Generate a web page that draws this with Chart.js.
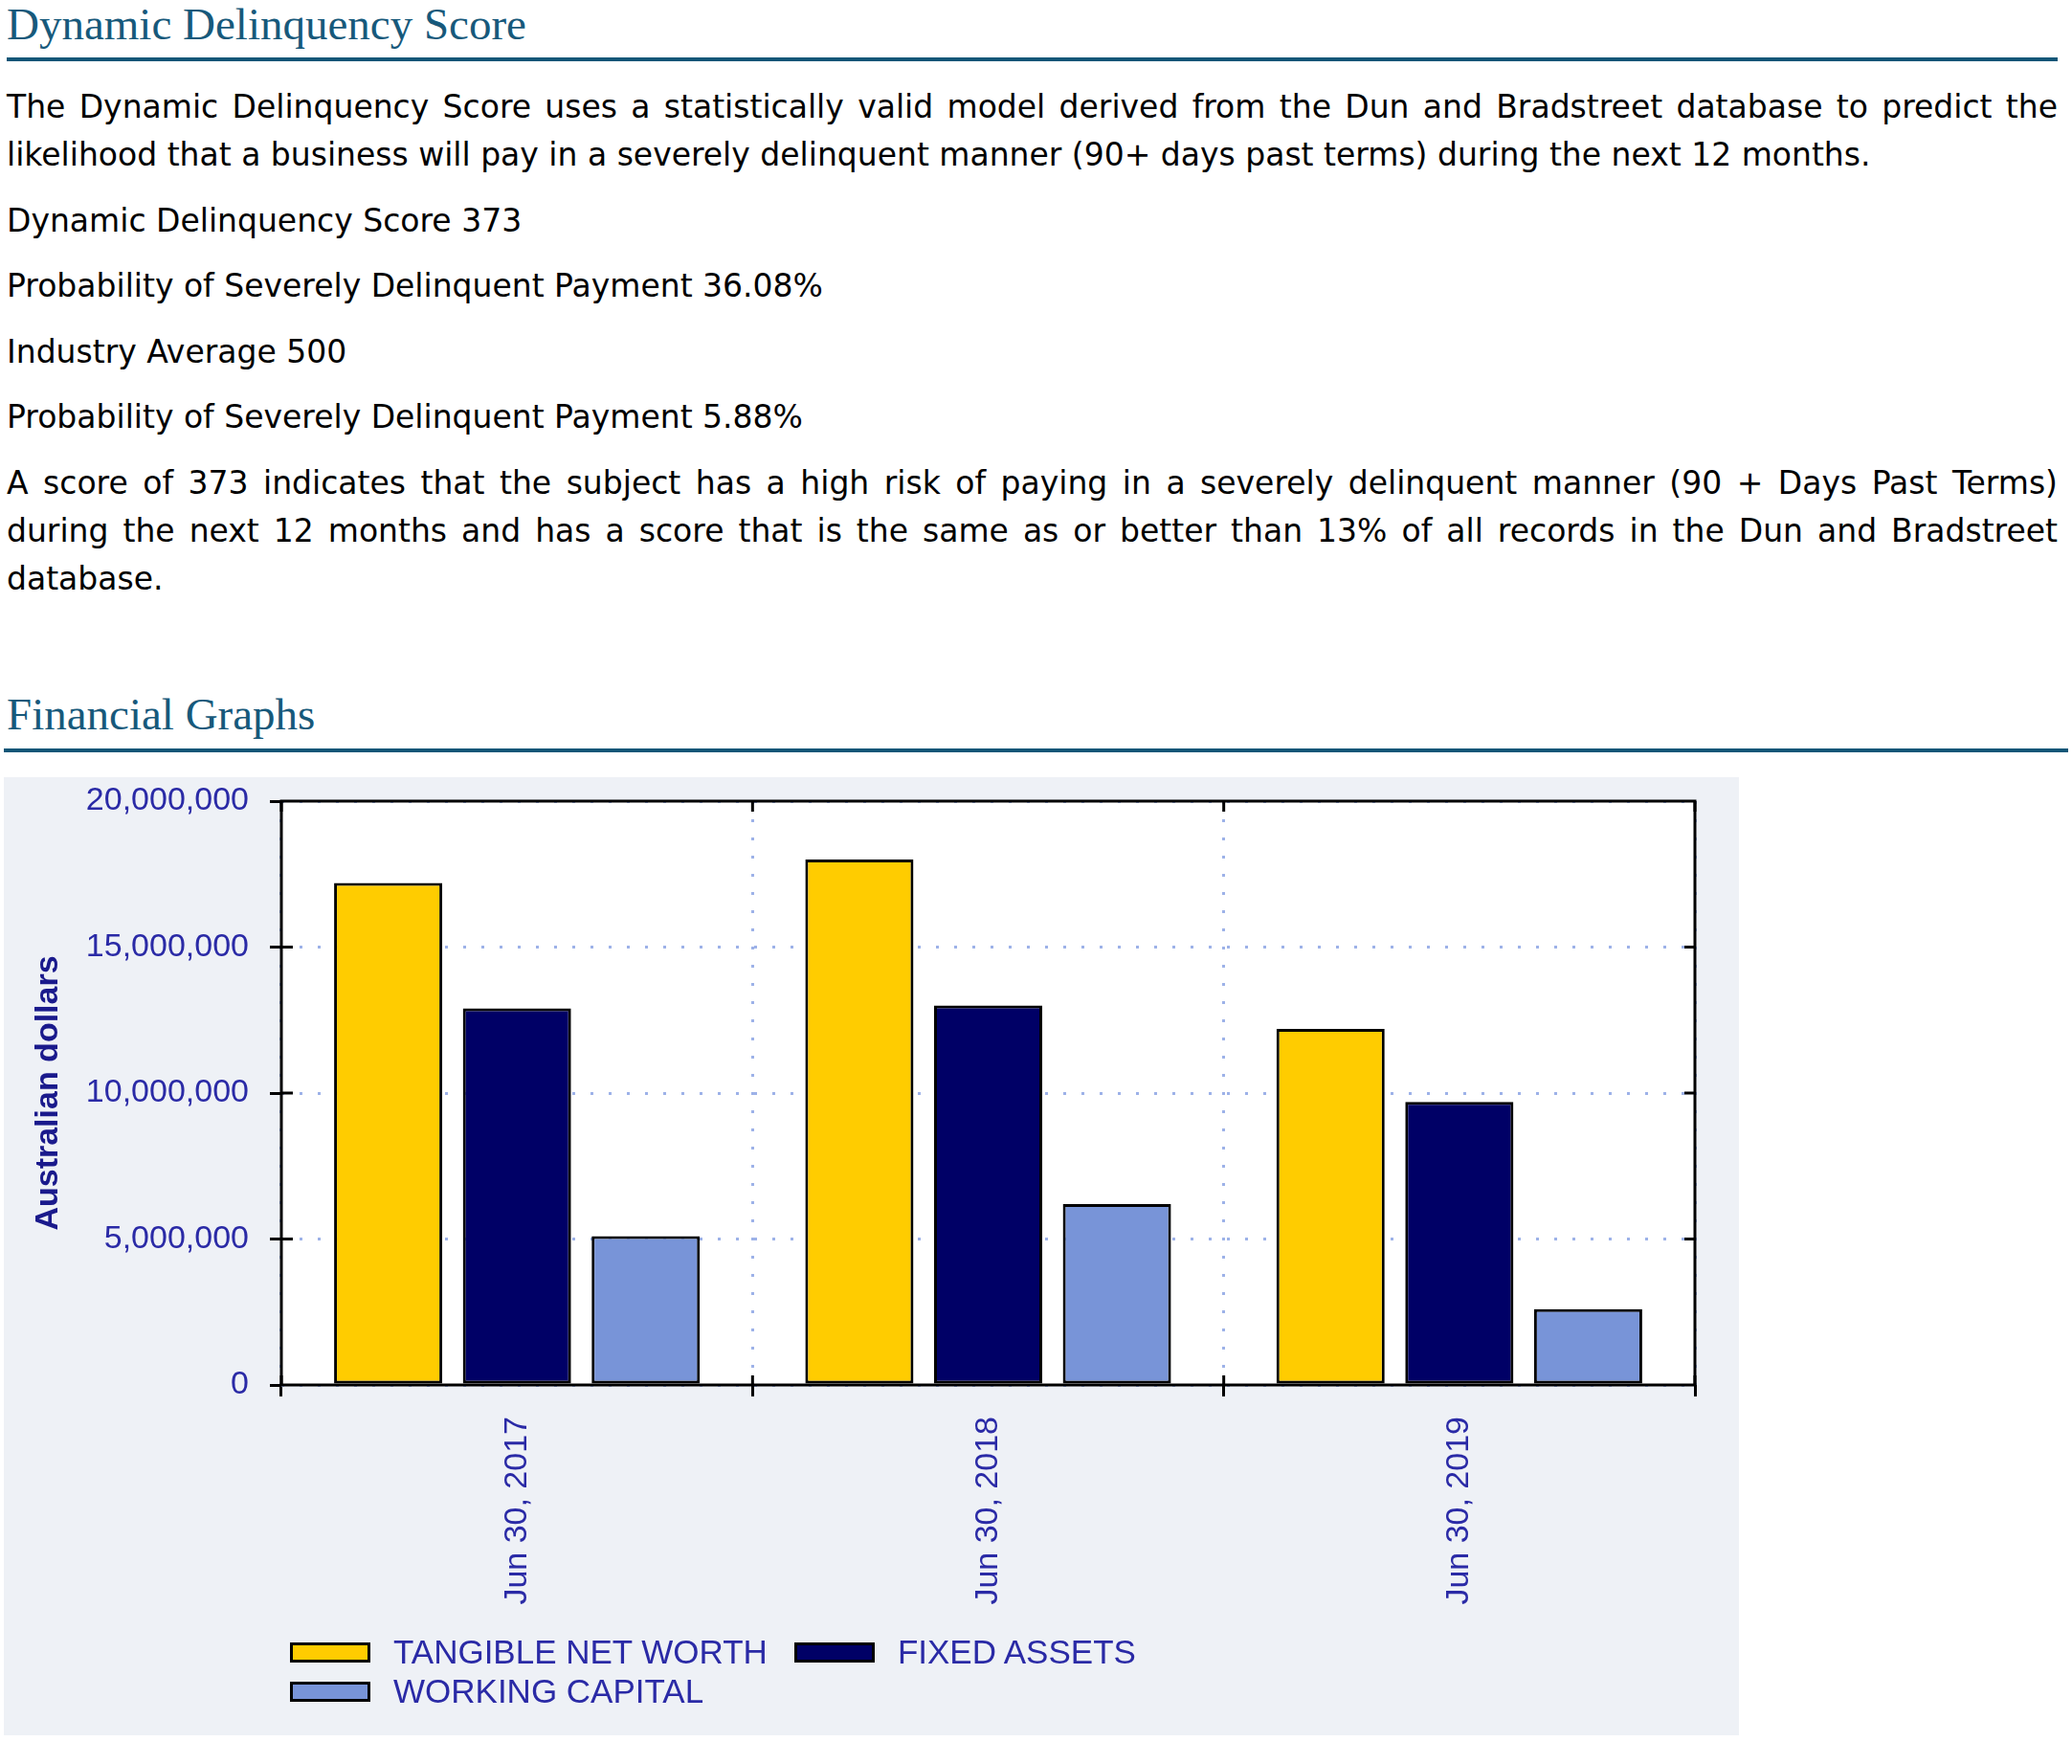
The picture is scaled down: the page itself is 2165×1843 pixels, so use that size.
<!DOCTYPE html>
<html>
<head>
  <title>Dynamic Delinquency Score</title>
  <script src="https://cdn.jsdelivr.net/npm/chart.js"></script>
  <style>
    body {
      margin: 0;
      background: #ffffff;
    }

    .page {
      padding-left: 7px;
      width: 2143px;
    }

    h1 {
      margin: 0;
      font-family: "Liberation Serif", serif;
      font-weight: normal;
      font-size: 47px;
      line-height: 50px;
      color: #17597b;
    }

    .rule {
      height: 4px;
      background: #0f5677;
    }

    p {
      margin: 0 0 18.5px 0;
      font-family: "DejaVu Sans", sans-serif;
      font-size: 33px;
      line-height: 50px;
      color: #000000;
      text-align: justify;
    }

    .panel {
      position: relative;
      margin-left: -3px;
      width: 1813px;
      height: 1001px;
      background: #eef1f6;
    }

    .legend {
      position: absolute;
      left: 299px;
      top: 894px;
      font-family: "Liberation Sans", Arial, sans-serif;
      font-size: 35px;
      color: #2a2aa6;
    }

    .legend-row {
      display: flex;
      align-items: center;
      height: 41px;
    }

    .legend-item {
      display: flex;
      align-items: center;
      margin-right: 28px;
    }

    .swatch {
      box-sizing: border-box;
      width: 84px;
      height: 21px;
      border: 3px solid #000000;
      margin-right: 24px;
    }
  </style>
</head>
<body>
  <div class="page">
    <h1>Dynamic Delinquency Score</h1>
    <div class="rule" style="margin-top: 10px; width: 2143px;"></div>

    <p style="margin-top: 23px;">The Dynamic Delinquency Score uses a statistically valid model derived from the Dun and Bradstreet database to predict the likelihood that a business will pay in a severely delinquent manner (90+ days past terms) during the next 12 months.</p>
    <p>Dynamic Delinquency Score 373</p>
    <p>Probability of Severely Delinquent Payment 36.08%</p>
    <p>Industry Average 500</p>
    <p>Probability of Severely Delinquent Payment 5.88%</p>
    <p>A score of 373 indicates that the subject has a high risk of paying in a severely delinquent manner (90 + Days Past Terms) during the next 12 months and has a score that is the same as or better than 13% of all records in the Dun and Bradstreet database.</p>

    <h1 style="margin-top: 91px;">Financial Graphs</h1>
    <div class="rule" style="margin-top: 11px; margin-left: -3px; width: 2157px;"></div>

    <div class="panel" style="margin-top: 26px;">
      <canvas id="graphique" width="1813" height="1001"></canvas>
      <div class="legend" id="legende"></div>
    </div>
  </div>

  <script>
    // Données (dollars australiens)
    const categories = ["Jun 30, 2017", "Jun 30, 2018", "Jun 30, 2019"];
    const tangibleNetWorth = [17200000, 18000000, 12200000];
    const fixedAssets = [12900000, 13000000, 9700000];
    const workingCapital = [5100000, 6200000, 2600000];

    const seriesNames = ["TANGIBLE NET WORTH", "FIXED ASSETS", "WORKING CAPITAL"];
    const seriesColors = ["#ffcc00", "#000066", "#7894d8"];
    const seriesValues = [tangibleNetWorth, fixedAssets, workingCapital];

    const yTicks = [0, 5000000, 10000000, 15000000, 20000000];

    const labelColor = "#2a2aa6";
    const gridColor = "#9db2e8";

    // Fond blanc, cadre noir et petites graduations intérieures
    const cadre = {
      id: "cadre",
      beforeDraw(chart) {
        const { ctx, chartArea: a } = chart;
        ctx.save();
        ctx.fillStyle = "#ffffff";
        ctx.fillRect(a.left, a.top, a.right - a.left, a.bottom - a.top);
        ctx.restore();
      },
      afterDatasetsDraw(chart) {
        const { ctx, chartArea: a, scales } = chart;
        ctx.save();
        ctx.strokeStyle = "#000000";
        ctx.lineWidth = 3;
        ctx.strokeRect(a.left, a.top, a.right - a.left, a.bottom - a.top);

        ctx.beginPath();
        scales.y.ticks.forEach((t, i) => {
          if (t.value === yTicks[0] || t.value === yTicks[yTicks.length - 1]) return;
          const py = scales.y.getPixelForTick(i);
          ctx.moveTo(a.left, py);
          ctx.lineTo(a.left + 12, py);
          ctx.moveTo(a.right, py);
          ctx.lineTo(a.right - 11, py);
        });
        for (let i = 0; i <= categories.length; i++) {
          const px = scales.x.getPixelForValue(i - 0.5);
          ctx.moveTo(px, a.top);
          ctx.lineTo(px, a.top + 11);
          ctx.moveTo(px, a.bottom);
          ctx.lineTo(px, a.bottom - 10);
        }
        ctx.stroke();
        ctx.restore();
      }
    };

    const datasets = seriesNames.map((name, i) => ({
      label: name,
      data: seriesValues[i],
      backgroundColor: seriesColors[i],
      borderColor: "#000000",
      borderWidth: 3,
      borderSkipped: false,
      barPercentage: 0.84,
      categoryPercentage: 0.82
    }));

    const graphique = document.getElementById("graphique").getContext("2d");
    new Chart(graphique, {
      type: "bar",
      data: { labels: categories, datasets: datasets },
      options: {
        responsive: false,
        animation: false,
        layout: { padding: { top: 25, right: 46, left: 0, bottom: 0 } },
        plugins: {
          legend: { display: false },
          tooltip: { enabled: false }
        },
        scales: {
          x: {
            grid: {
              color: gridColor,
              lineWidth: 3,
              tickColor: "#000000",
              tickWidth: 3,
              tickLength: 12
            },
            border: { display: false, dash: [3, 16] },
            ticks: {
              autoSkip: false,
              minRotation: 90,
              maxRotation: 90,
              padding: 21,
              color: labelColor,
              font: { family: "Liberation Sans", size: 34 }
            },
            afterFit(scale) {
              scale.height = 366;
              scale.paddingLeft = 0;
              scale.paddingRight = 0;
            }
          },
          y: {
            min: 0,
            max: 20000000,
            afterBuildTicks(scale) {
              scale.ticks = yTicks.map(v => ({ value: v }));
            },
            grid: {
              color: gridColor,
              lineWidth: 3,
              tickColor: "#000000",
              tickWidth: 3,
              tickLength: 12
            },
            border: { display: false, dash: [3, 16] },
            ticks: {
              padding: 22,
              color: labelColor,
              font: { family: "Liberation Sans", size: 34 },
              callback: value => value.toLocaleString("en-US")
            },
            title: {
              display: true,
              text: "Australian dollars",
              color: "#1a1a8c",
              padding: { top: 26, bottom: 0 },
              font: { family: "Liberation Sans", size: 34, weight: "bold" }
            },
            afterFit(scale) {
              scale.width = 290;
              scale.paddingTop = 0;
              scale.paddingBottom = 0;
            }
          }
        }
      },
      plugins: [cadre]
    });

    // Légende sur deux lignes, construite à partir des séries
    const legende = document.getElementById("legende");
    for (let r = 0; r < seriesNames.length; r += 2) {
      const row = document.createElement("div");
      row.className = "legend-row";
      seriesNames.slice(r, r + 2).forEach((name, k) => {
        const item = document.createElement("div");
        item.className = "legend-item";
        item.innerHTML = `<span class="swatch" style="background:${seriesColors[r + k]}"></span><span>${name}</span>`;
        row.appendChild(item);
      });
      legende.appendChild(row);
    }
  </script>
</body>
</html>
